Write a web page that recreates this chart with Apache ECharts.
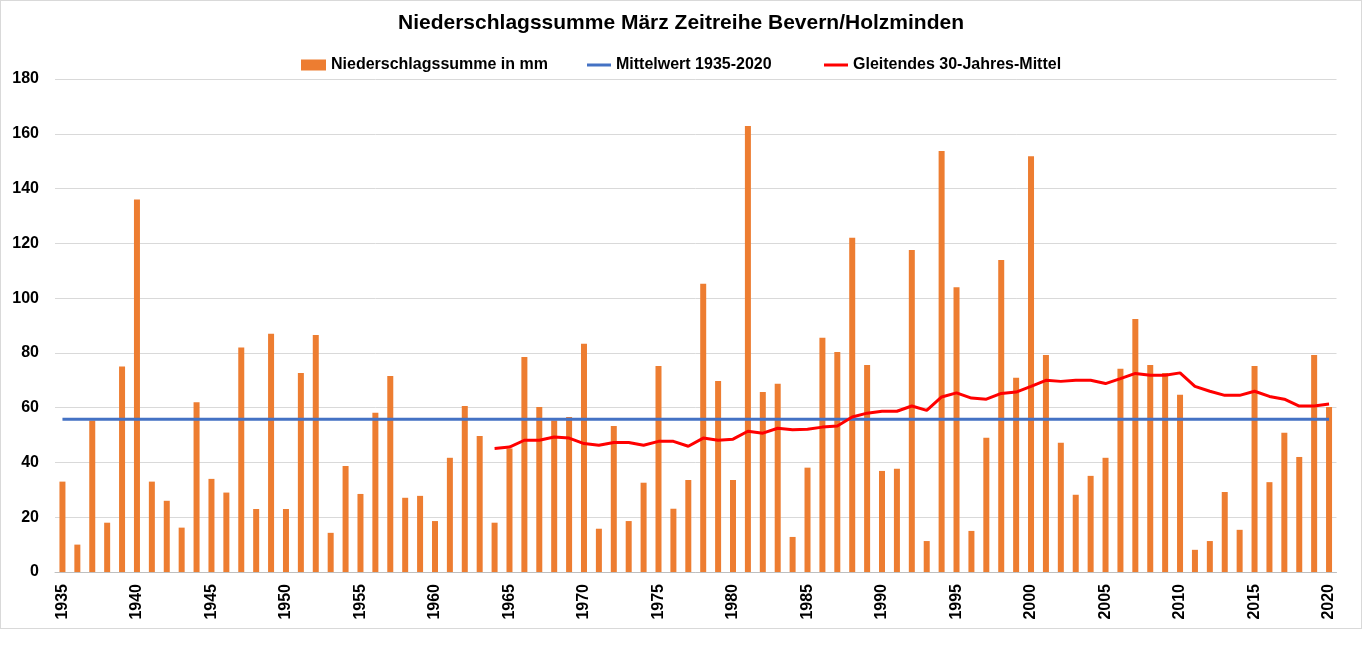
<!DOCTYPE html>
<html>
<head>
<meta charset="utf-8">
<script src="https://cdn.jsdelivr.net/npm/echarts@6/dist/echarts.min.js"></script>
<style>
  html, body { margin: 0; padding: 0; background: #fff; }
  #frame { position: absolute; left: 0; top: 0; width: 1360px; height: 627px; border: 1px solid #d9d9d9; }
  #chart { width: 1360px; height: 627px; }
</style>
</head>
<body>
<div id="frame"><div id="chart"></div></div>
<script>
const years = [];
for (let y = 1935; y <= 2020; y++) years.push(String(y));

const precipitation = [
  33, 10, 55.3, 18, 75,
  136, 33, 26, 16.2, 62,
  34, 29, 82, 23, 87,
  23, 72.7, 86.5, 14.3, 38.7,
  28.5, 58.1, 71.6, 27.1, 27.8,
  18.6, 41.7, 60.6, 49.7, 18,
  45.1, 78.5, 60.2, 55.3, 56.6,
  83.3, 15.8, 53.3, 18.6, 32.6,
  75.2, 23.1, 33.6, 105.2, 69.7,
  33.6, 162.8, 65.7, 68.7, 12.8,
  38.1, 85.5, 80.3, 122, 75.6,
  36.9, 37.7, 117.6, 11.3, 153.7,
  104, 15, 49, 113.9, 70.9,
  151.8, 79.2, 47.2, 28.2, 35.1,
  41.7, 74.2, 92.4, 75.6, 72.7,
  64.7, 8.1, 11.3, 29.2, 15.4,
  75.2, 32.8, 50.8, 42, 79.2,
  60.2
];

const meanValue = 55.8;

// 30-year moving average, 1964-2020
const movingAvgStartYear = 1964;
const movingAvg = [
  45.1, 45.6, 48.1, 48.1, 49.3, 48.9, 46.9, 46.3, 47.3, 47.3,
  46.3, 47.7, 47.7, 45.9, 48.9, 48.1, 48.5, 51.4, 50.7, 52.5,
  51.9, 52.1, 52.9, 53.3, 56.6, 58.0, 58.7, 58.7, 60.6, 59.0,
  63.9, 65.4, 63.5, 63.1, 65.2, 65.7, 67.8, 70.0, 69.6, 70.0,
  70.0, 68.8, 70.6, 72.5, 71.8, 71.8, 72.7, 67.8, 66.0, 64.5,
  64.5, 66.0, 64.1, 63.1, 60.6, 60.6, 61.3
];

const yTicks = { min: 0, max: 180, interval: 20 };

const meanSeries = years.map(() => meanValue);
const offset = movingAvgStartYear - 1935;
const movingSeries = years.map((y, i) => (i >= offset ? movingAvg[i - offset] : null));

const FONT = '"Liberation Sans", Arial, sans-serif';
const chart = echarts.init(document.getElementById('chart'));
const legendText = { fontFamily: FONT, fontWeight: 'bold', fontSize: 16, color: '#000' };

chart.setOption({
  animation: false,
  textStyle: { fontFamily: FONT },
  title: {
    text: 'Niederschlagssumme März Zeitreihe Bevern/Holzminden',
    left: 'center',
    top: 12,
    padding: 0,
    textStyle: { fontFamily: FONT, fontWeight: 'bold', fontSize: 21, color: '#000' }
  },
  legend: [
    { data: [{ name: 'Niederschlagssumme in mm', icon: 'rect' }], left: 300, top: 56, padding: 0,
      itemWidth: 25, itemHeight: 11, textStyle: legendText },
    { data: [{ name: 'Mittelwert 1935-2020', icon: 'rect' }], left: 586, top: 56, padding: 0,
      itemWidth: 24, itemHeight: 3, textStyle: legendText },
    { data: [{ name: 'Gleitendes 30-Jahres-Mittel', icon: 'rect' }], left: 823, top: 56, padding: 0,
      itemWidth: 24, itemHeight: 3, textStyle: legendText }
  ],
  grid: { left: 54, right: 24.5, top: 78, bottom: 56, containLabel: false },
  xAxis: {
    type: 'category',
    data: years,
    boundaryGap: true,
    axisLine: { lineStyle: { color: '#bfbfbf', width: 1 } },
    axisTick: { show: false },
    axisLabel: {
      interval: 4,
      rotate: 90,
      margin: 12,
      fontFamily: FONT, fontWeight: 'bold', fontSize: 16, color: '#000'
    },
    splitLine: { show: false }
  },
  yAxis: {
    type: 'value',
    min: yTicks.min, max: yTicks.max, interval: yTicks.interval,
    axisLine: { show: false },
    axisTick: { show: false },
    axisLabel: { margin: 16, fontFamily: FONT, fontWeight: 'bold', fontSize: 16, color: '#000' },
    splitLine: { lineStyle: { color: '#d9d9d9', width: 1 } }
  },
  series: [
    {
      name: 'Niederschlagssumme in mm',
      type: 'bar',
      data: precipitation,
      barWidth: 6,
      itemStyle: { color: '#ED7D31' }
    },
    {
      name: 'Mittelwert 1935-2020',
      type: 'line',
      data: meanSeries,
      symbol: 'none',
      lineStyle: { color: '#4472C4', width: 3 },
      itemStyle: { color: '#4472C4' }
    },
    {
      name: 'Gleitendes 30-Jahres-Mittel',
      type: 'line',
      data: movingSeries,
      symbol: 'none',
      connectNulls: false,
      lineStyle: { color: '#FF0000', width: 3 },
      itemStyle: { color: '#FF0000' }
    }
  ]
});
</script>
</body>
</html>
